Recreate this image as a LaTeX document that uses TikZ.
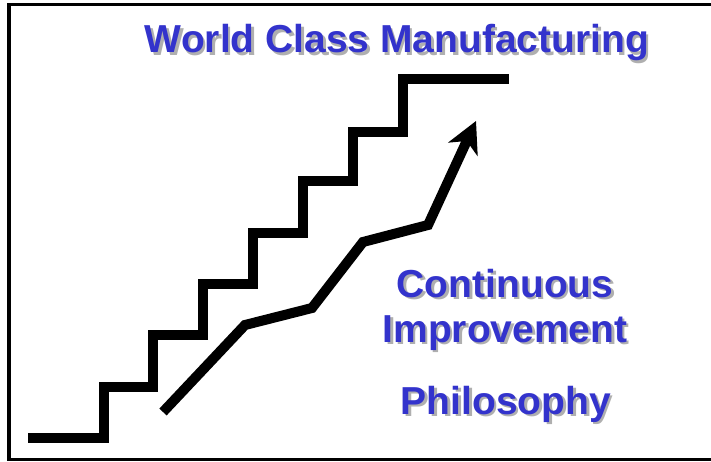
\documentclass[tikz,border=0pt]{standalone}
\usepackage{fontspec}
\setmainfont{Liberation Sans}
\usetikzlibrary{arrows.meta}
\definecolor{wcmblue}{RGB}{51,51,204}
\definecolor{wcmshade}{RGB}{175,175,175}
\begin{document}
\begin{tikzpicture}[x=1pt,y=-1pt,
        label/.style = {font=\bfseries\fontsize{39}{47}\selectfont,text=wcmblue,anchor=base,inner sep=0pt},
        shade/.style = {label,text=wcmshade},
        stairs/.style = {line width=9.5pt,line join=miter},
        growth/.style = {line width=10pt,line join=miter,-{Stealth[length=31pt,width=32pt,inset=9pt]}}]
                \useasboundingbox (0,0) rectangle (711,462);
                \draw[line width=3.5pt] (711,4.5) -- (9,4.5) -- (9,459.5) -- (711,459.5);

                % staircase
                \draw[stairs] (28,438) -- (104,438) -- (104,387) -- (153,387)
                    -- (153,335) -- (203,335) -- (203,284) -- (253,284)
                    -- (253,233) -- (303,233) -- (303,181) -- (353,181)
                    -- (353,132) -- (403,132) -- (403,79) -- (509,79);

                % improvement path
                \coordinate (p0) at (163,412);
                \coordinate (p1) at (245,325);
                \coordinate (p2) at (312,308);
                \coordinate (p3) at (363,242);
                \coordinate (p4) at (428,225);
                \coordinate (tip) at (476,121);
                \draw[growth] (p0) -- (p1) -- (p2) -- (p3) -- (p4) -- (tip);

                \node[shade] (titleshade) at (399.5,55.5) {World Class Manufacturing};
                \node[label] (title) at (397,53) {World Class Manufacturing};
                \node[shade] (contshade) at (507.5,299.5) {Continuous};
                \node[label] (cont) at (505,297) {Continuous};
                \node[shade] (imprshade) at (507.5,344.5) {Improvement};
                \node[label] (impr) at (505,342) {Improvement};
                \node[shade] (philshade) at (508.5,416.5) {Philosophy};
                \node[label] (phil) at (506,414) {Philosophy};
            \end{tikzpicture}
\end{document}
